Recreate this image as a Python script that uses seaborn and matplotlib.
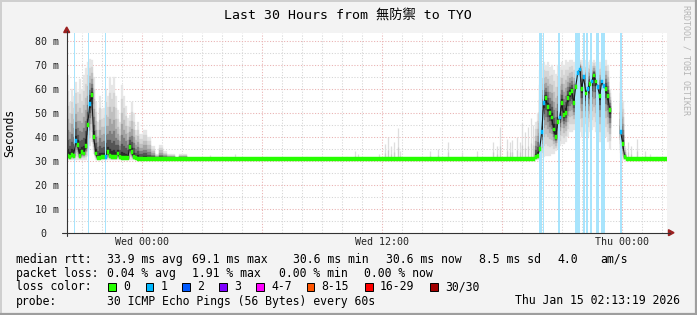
import numpy as np
import matplotlib
matplotlib.use("Agg")
import matplotlib.pyplot as plt
from matplotlib.lines import Line2D
from matplotlib.patches import Rectangle, Polygon
import seaborn as sns

# ---------------- data (hours since start of window, Tue 20:15) ----------------
hours = [0.0, 0.1, 0.2, 0.3, 0.4, 0.5, 0.6, 0.7, 0.8, 0.9, 1.0, 1.1, 1.2, 1.3, 1.4, 1.5, 1.6, 1.7,
         1.8, 1.9, 2.0, 2.1, 2.2, 2.3, 2.4, 2.5, 2.6, 2.7, 2.8, 2.9, 3.0, 3.1, 3.2, 3.3, 3.4, 3.5,
         3.6, 3.8, 4.0, 4.2, 4.4, 4.6, 4.8, 5.0, 5.2, 5.4, 5.6,
         6.0, 8.0, 10.0, 12.0, 14.0, 16.0, 18.0, 20.0, 22.0, 23.0,
         23.4, 23.5, 23.6, 23.7, 23.8, 23.9, 24.0, 24.1, 24.2, 24.3, 24.4, 24.5, 24.6, 24.7, 24.8,
         24.9, 25.0, 25.1, 25.2, 25.3, 25.4, 25.5, 25.6, 25.7, 25.8, 25.9, 26.0, 26.1, 26.2, 26.3,
         26.4, 26.5, 26.6, 26.7, 26.8, 26.9, 27.0, 27.1,
         27.2,
         27.65, 27.75, 27.85,
         27.95, 28.5, 29.0, 29.5]
nan = float("nan")
median_rtt = [32.0, 31.5, 32.5, 32.0, 38.2, 36.5, 32.0, 33.5, 33.0, 36.0, 45.0, 53.5, 57.5, 40.0,
              33.0, 31.0, 31.0, 31.5, 31.5, 31.5, 33.8, 32.0, 31.5, 31.5, 31.5, 33.0, 31.5, 31.0,
              31.0, 31.0, 31.0, 35.8, 33.5, 31.5, 31.0, 30.8,
              30.7, 30.7, 30.7, 30.7, 30.7, 30.7, 30.7, 30.7, 30.7, 30.7, 30.7,
              30.6, 30.6, 30.6, 30.6, 30.6, 30.6, 30.6, 30.6, 30.6, 30.6,
              31.5, 32.0, 35.0, 42.0, 54.0, 56.0, 52.5, 50.0, 48.0, 43.0, 40.0, 46.0, 48.0, 54.0,
              49.0, 50.0, 56.0, 58.0, 59.0, 54.0, 60.8, 66.5, 68.0, 60.0, 65.0, 58.0, 60.0, 62.0,
              63.0, 65.5, 63.0, 60.7, 57.0, 63.0, 61.0, 60.0, 57.0, 51.0,
              nan,
              42.0, 37.0, 31.5,
              30.6, 30.6, 30.6, 30.6]
smoke_max = [65.7, 54.6, 60.0, 57.0, 63.0, 58.5, 64.0, 60.0, 65.7, 68.5, 71.0, 72.5, 72.0, 65.0,
             54.6, 46.0, 57.0, 51.5, 52.0, 60.0, 57.0, 65.0, 61.7, 65.0, 57.0, 51.0, 46.0, 61.7,
             57.0, 53.0, 48.0, 49.0, 54.6, 50.0, 43.0, 46.0,
             41.0, 43.0, 40.0, 36.0, 33.0, 36.5, 34.0, 33.0, 33.0, 31.0, 33.0,
             30.6, 30.6, 30.6, 30.6, 30.6, 30.6, 30.6, 30.6, 30.6, 30.6,
             46.0, 50.0, 68.0, 70.0, 71.0, 70.0, 71.0, 69.0, 70.0, 68.0, 66.0, 70.0, 69.0, 71.0,
             70.0, 72.0, 71.0, 72.0, 72.0, 71.0, 72.0, 73.0, 72.0, 72.0, 71.0, 72.0, 71.0, 72.0,
             71.0, 72.0, 71.0, 72.0, 71.0, 72.0, 71.0, 72.0, 70.0, 60.0,
             nan,
             68.0, 55.0, 36.0,
             30.6, 30.6, 30.6, 30.6]
smoke_min = [30.4, 30.4, 30.4, 30.4, 30.4, 30.4, 30.4, 30.4, 30.4, 30.4, 32.0, 36.0, 38.0, 33.0,
             30.4, 30.4, 30.4, 30.4, 30.4, 30.4, 30.4, 30.4, 30.4, 30.4, 30.4, 30.4, 30.4, 30.4,
             30.4, 30.4, 30.4, 30.4, 30.4, 30.4, 30.4, 30.4,
             30.4, 30.4, 30.4, 30.4, 30.4, 30.4, 30.4, 30.4, 30.4, 30.4, 30.4,
             30.4, 30.4, 30.4, 30.4, 30.4, 30.4, 30.4, 30.4, 30.4, 30.4,
             30.4, 30.4, 30.5, 31.0, 31.5, 32.0, 32.0, 32.0, 33.0, 33.0, 34.0, 35.0, 36.0, 37.0,
             37.0, 38.0, 40.0, 42.0, 42.0, 43.0, 44.0, 44.0, 42.0, 40.0, 41.0, 42.0, 40.0, 42.0,
             43.0, 44.0, 42.0, 40.0, 38.0, 42.0, 42.0, 40.0, 38.0, 35.0,
             nan,
             31.0, 30.5, 30.4,
             30.4, 30.4, 30.4, 30.4]
loss_count = [0, 0, 0, 0, 1, 0, 0, 0, 0, 0, 0, 1, 0, 0, 0, 0, 0, 0, 0, 1, 0, 0, 0, 0, 0, 0, 0, 0,
              0, 0, 0, 0, 0, 0, 0, 0,
              0, 0, 0, 0, 0, 0, 0, 0, 0, 0, 0,
              0, 0, 0, 0, 0, 0, 0, 0, 0, 0,
              0, 0, 0, 1, 1, 0, 0, 0, 0, 0, 0, 0, 1, 0, 0, 0, 0, 0, 0, 0, 0, 1, 1, 0, 1, 0, 1, 0,
              1, 0, 0, 1, 0, 1, 1, 0, 0, 0,
              0,
              1, 0, 0,
              0, 0, 0, 0]
end_hour = 30.0

# isolated smoke spikes on the flat baseline
spike_hours = [7.15, 8.4, 14.4, 14.55, 15.6, 15.9, 16.05, 16.2, 16.35, 16.55, 16.65, 18.15,
               18.55, 19.05, 19.75, 20.5, 21.3, 21.5, 21.65, 22.0, 22.15, 22.25, 22.5, 22.65,
               22.75, 22.9, 23.05, 23.2, 23.3, 28.05, 28.2, 28.5, 28.9, 29.15]
spike_tops = [32.5, 33.0, 34.0, 33.0, 33.0, 37.0, 40.0, 36.0, 38.0, 43.8, 34.0, 34.0,
              35.0, 38.0, 33.5, 34.0, 38.0, 36.0, 44.0, 39.0, 38.0, 38.5, 40.0, 38.0,
              45.6, 42.0, 44.0, 48.0, 45.0, 38.0, 36.0, 39.0, 34.0, 33.0]

# packet-loss events (hour of each 3-minute step with loss)
loss_hours = [0.35, 1.05, 1.9, 23.6, 23.65, 23.7, 23.8, 24.55, 24.6, 25.4, 25.45, 25.5, 25.55,
              25.6, 25.8, 25.85, 25.95, 26.0, 26.15, 26.2, 26.45, 26.5, 26.55, 26.7, 26.75,
              26.8, 26.85, 27.65, 27.7]

loss_labels = ["0", "1", "2", "3", "4-7", "8-15", "16-29", "30/30"]
loss_colors = ["#26ff00", "#00b8ff", "#0059ff", "#7e00ff", "#ff00ff", "#ff5500", "#ff0000", "#a10000"]

y_ticks = [0, 10, 20, 30, 40, 50, 60, 70, 80]
y_tick_labels = ["0  ", "10 m", "20 m", "30 m", "40 m", "50 m", "60 m", "70 m", "80 m"]
x_ticks = [3.75, 15.75, 27.75]
x_tick_labels = ["Wed 00:00", "Wed 12:00", "Thu 00:00"]

title = "Last 30 Hours from 無防禦 to TYO"
stats_rows = [
    ("median rtt:", [(107.0, "33.9 ms avg"), (192.4, "69.1 ms max"), (292.9, "30.6 ms min"),
                     (386.2, "30.6 ms now"), (479.1, "8.5 ms sd"), (557.8, "4.0"), (600.0, "am/s")]),
    ("packet loss:", [(107.0, "0.04 % avg"), (192.4, "1.91 % max"), (279.0, "0.00 % min"),
                      (364.4, "0.00 % now")]),
]
probe_text = "30 ICMP Echo Pings (56 Bytes) every 60s"
stamp_text = "Thu Jan 15 02:13:19 2026"

# ---------------- style ----------------
sns.set_theme(style="white")
plt.rcParams["font.family"] = ["DejaVu Sans Mono", "Noto Sans CJK SC"]

W, H = 697, 315
fig = plt.figure(figsize=(W / 100, H / 100), dpi=100, facecolor="#f3f3f3")


def fx(px):
    return px / W


def fy(py):
    return 1 - py / H


L, R, T, B = 66.7, 666.7, 33.0, 232.7
PX_PER_UNIT = 2.4
ax = fig.add_axes([fx(L), fy(B), (R - L) / W, (B - T) / H])
ax.set_facecolor("white")
ax.set_xlim(0, 30)
ax.set_ylim(0, (B - T) / PX_PER_UNIT)
for s in ax.spines.values():
    s.set_visible(False)

# grid
dash = (1.1, 1.6)
for hx in np.arange(0.75, 30, 1.0):
    major = abs(((hx - 3.75) / 6.0) - round((hx - 3.75) / 6.0)) < 1e-6
    ax.axvline(hx, color="#eab4b4" if major else "#d6d6d6", lw=0.75, dashes=dash, zorder=1)
for yv in range(5, 85, 5):
    ax.axhline(yv, color="#eab4b4" if yv % 10 == 0 else "#d6d6d6", lw=0.75, dashes=dash, zorder=1)

h = np.array(hours, dtype=float)
med = np.array(median_rtt, dtype=float)
hi = np.array(smoke_max, dtype=float)
lo = np.array(smoke_min, dtype=float)
lc = np.array(loss_count)
widths = np.diff(np.append(h, end_hour))
ok = ~np.isnan(med)

# smoke (layered density from median out to extremes)
fracs = [1.0, 0.8, 0.62, 0.46, 0.32, 0.2, 0.09]
grays = ["#e6e6e6", "#d5d5d5", "#bfbfbf", "#a3a3a3", "#7e7e7e", "#555555", "#2a2a2a"]
for f, g in zip(fracs, grays):
    bot = med[ok] - f * (med[ok] - lo[ok])
    top = med[ok] + f * (hi[ok] - med[ok])
    ax.bar(h[ok], top - bot, bottom=bot, width=widths[ok], align="edge", color=g,
           edgecolor=g, lw=0.2, zorder=2)

# thin light spikes on the baseline
sh = np.array(spike_hours) + 0.025
st = np.array(spike_tops)
ax.vlines(sh, 30.4, st, colors="#dedede", lw=0.9, zorder=2)
ax.vlines(sh, 30.4, 30.6 + 0.4 * (st - 30.6), colors="#cdcdcd", lw=0.9, zorder=2)

# loss bars
for lh in loss_hours:
    ax.axvspan(lh, lh + 0.05, color="#a8e4fc", lw=0, zorder=3)

# dark core line linking the medians
seg_start = 0
for i in range(len(h) + 1):
    if i == len(h) or np.isnan(med[i]):
        if i - seg_start > 1:
            xs = h[seg_start:i] + widths[seg_start:i] / 2
            sns.lineplot(x=xs, y=med[seg_start:i], ax=ax, color="#1a1a1a", lw=0.8,
                         sort=False, estimator=None, zorder=4, legend=False)
        seg_start = i + 1


def loss_color(n):
    if n <= 3:
        return loss_colors[n]
    if n <= 7:
        return loss_colors[4]
    if n <= 15:
        return loss_colors[5]
    if n <= 29:
        return loss_colors[6]
    return loss_colors[7]


# median band coloured by loss
cols = [loss_color(int(n)) for n in lc[ok]]
ax.bar(h[ok], 1.6, bottom=med[ok] - 0.8, width=widths[ok], align="edge", color=cols,
       edgecolor=cols, lw=0.3, zorder=5)

# ticks
ax.set_yticks(y_ticks)
ax.set_yticklabels(y_tick_labels, fontsize=7.2, color="#222222")
ax.set_xticks(x_ticks)
ax.set_xticklabels(x_tick_labels, fontsize=7.2, color="#222222")
ax.tick_params(axis="y", length=0, pad=5.3)
ax.tick_params(axis="x", length=0, pad=3.3)

# axes lines and arrows (figure pixel coordinates)
fig.add_artist(Line2D([fx(62), fx(670)], [fy(B), fy(B)], color="#333333", lw=0.8))
fig.add_artist(Line2D([fx(L), fx(L)], [fy(236), fy(31)], color="#333333", lw=0.8))
fig.add_artist(Polygon([[fx(668.5), fy(229.7)], [fx(668.5), fy(235.7)], [fx(674), fy(B)]],
                       closed=True, color="#9b2020", transform=fig.transFigure))
fig.add_artist(Polygon([[fx(63.7), fy(32.5)], [fx(69.7), fy(32.5)], [fx(L), fy(27)]],
                       closed=True, color="#9b2020", transform=fig.transFigure))

# frame shading
fig.add_artist(Line2D([0, 1], [fy(0.5), fy(0.5)], color="#cfcfcf", lw=1.4))
fig.add_artist(Line2D([fx(0.5), fx(0.5)], [0, 1], color="#cfcfcf", lw=1.4))
fig.add_artist(Line2D([0, 1], [fy(314), fy(314)], color="#9e9e9e", lw=1.6))
fig.add_artist(Line2D([fx(696), fx(696)], [0, 1], color="#9e9e9e", lw=1.6))

# texts
fig.text(fx(347.5), fy(15), title, fontsize=9.5, ha="center", va="center", color="black")
fig.text(fx(10), fy(B - (B - T) / 2), "Seconds", rotation=90, fontsize=8.3, ha="center",
         va="center", color="black")
fig.text(fx(686), fy(5), "RRDTOOL / TOBI OETIKER", rotation=-90, fontsize=6.0, ha="center",
         va="top", color="#b5b5b5")

fs = 8.3
row_y = [259.3, 273.3, 287.0, 301.0]
for (label, items), yy in zip(stats_rows, row_y[:2]):
    fig.text(fx(15.6), fy(yy), label, fontsize=fs, ha="left", va="center", color="black")
    for xx, s in items:
        fig.text(fx(xx), fy(yy), s, fontsize=fs, ha="left", va="center", color="black")

fig.text(fx(15.6), fy(row_y[2]), "loss color:", fontsize=fs, ha="left", va="center", color="black")
box_x = [108.3, 145.7, 182.3, 219.0, 256.0, 306.7, 365.0, 430.0]
for bx, lab, col in zip(box_x, loss_labels, loss_colors):
    fig.add_artist(Rectangle((fx(bx), fy(row_y[2] + 4)), 7.7 / W, 7.7 / H, facecolor=col,
                             edgecolor="black", lw=0.7, transform=fig.transFigure))
    fig.text(fx(bx + 15), fy(row_y[2]), lab, fontsize=fs, ha="left", va="center", color="black")

fig.text(fx(15.6), fy(row_y[3]), "probe:", fontsize=fs, ha="left", va="center", color="black")
fig.text(fx(107.0), fy(row_y[3]), probe_text, fontsize=fs, ha="left", va="center", color="black")
fig.text(fx(680), fy(row_y[3]), stamp_text, fontsize=fs, ha="right", va="center", color="black")

fig.savefig("out.png", dpi=100, facecolor=fig.get_facecolor())
